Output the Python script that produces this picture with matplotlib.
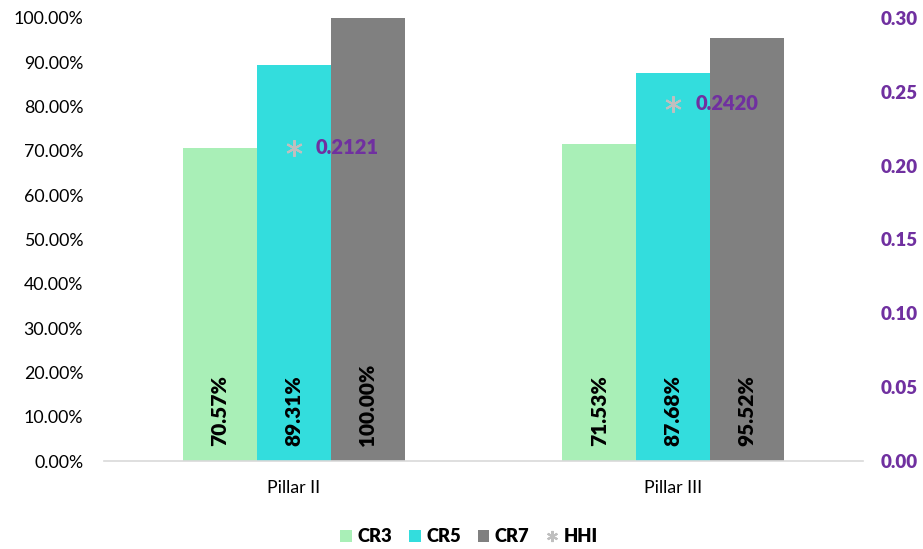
import numpy as np
import matplotlib
matplotlib.use('Agg')
import matplotlib.pyplot as plt
from matplotlib.ticker import FuncFormatter, MultipleLocator
from matplotlib.lines import Line2D
from matplotlib.patches import Patch

plt.rcParams['font.family'] = ['Lato', 'DejaVu Sans']

categories = ['Pillar II', 'Pillar III']
cr3 = [70.57, 71.53]
cr5 = [89.31, 87.68]
cr7 = [100.00, 95.52]
hhi = [0.2121, 0.2420]

series_names = ['CR3', 'CR5', 'CR7']
colors = ['#a9efb7', '#33dddd', '#808080']
purple = '#7030a0'
bold = 'heavy'

fig = plt.figure(figsize=(9.23, 5.49), dpi=100)
ax = fig.add_axes([104 / 923, 1 - 461 / 549, (863 - 104) / 923, (461 - 18) / 549])

x = np.arange(len(categories))
w = 0.195
for i, (vals, c) in enumerate(zip([cr3, cr5, cr7], colors)):
    xs = x + (i - 1) * w
    ax.bar(xs, vals, width=w, color=c, zorder=2)
    for xi, v in zip(xs, vals):
        ax.annotate(f'{v:.2f}%', (xi, 0), xytext=(0, 11), textcoords='offset points',
                    rotation=90, ha='center', va='bottom', fontsize=15,
                    fontweight=bold, color='black')

ax.set_xlim(-0.5, 1.5)
ax.set_ylim(0, 100)
ax.yaxis.set_major_locator(MultipleLocator(10))
ax.yaxis.set_major_formatter(FuncFormatter(lambda v, p: f'{v:.2f}%'))
ax.set_xticks(x)
ax.set_xticklabels(categories)
ax.tick_params(axis='y', length=0, pad=15, labelsize=12.8)
ax.tick_params(axis='x', length=0, pad=14, labelsize=12.8)
for s in ['top', 'right', 'left']:
    ax.spines[s].set_visible(False)
ax.spines['bottom'].set_color('#d9d9d9')
ax.spines['bottom'].set_linewidth(1.2)

ax2 = ax.twinx()
ax2.set_ylim(0, 0.30)
ax2.yaxis.set_major_locator(MultipleLocator(0.05))
ax2.yaxis.set_major_formatter(FuncFormatter(lambda v, p: f'{v:.2f}'))
ax2.tick_params(axis='y', length=0, pad=13, labelsize=13.5, labelcolor=purple)
for lab in ax2.get_yticklabels():
    lab.set_fontweight(bold)
for s in ['top', 'right', 'left', 'bottom']:
    ax2.spines[s].set_visible(False)
ax2.plot(x, hhi, linestyle='none', marker=(6, 2, 0), markersize=12,
         markeredgecolor='#bfbfbf', markeredgewidth=1.5, zorder=3)
for xi, v in zip(x, hhi):
    ax2.annotate(f'{v:.4f}', (xi, v), xytext=(16, 0), textcoords='offset points',
                 ha='left', va='center', fontsize=14.5, fontweight=bold, color=purple)

handles = [Patch(facecolor=c, label=n) for c, n in zip(colors, series_names)]
handles.append(Line2D([], [], linestyle='none', marker=(6, 2, 0), markersize=8,
                      markeredgecolor='#bfbfbf', markeredgewidth=1.5, label='HHI'))
leg = fig.legend(handles=handles, loc='center', bbox_to_anchor=(0.508, 1 - 537 / 549),
                 ncol=4, frameon=False, handlelength=0.65, handleheight=0.65,
                 handletextpad=0.3, columnspacing=0.9, prop={'size': 13.2, 'weight': bold})

fig.savefig('out.png', dpi=100)
